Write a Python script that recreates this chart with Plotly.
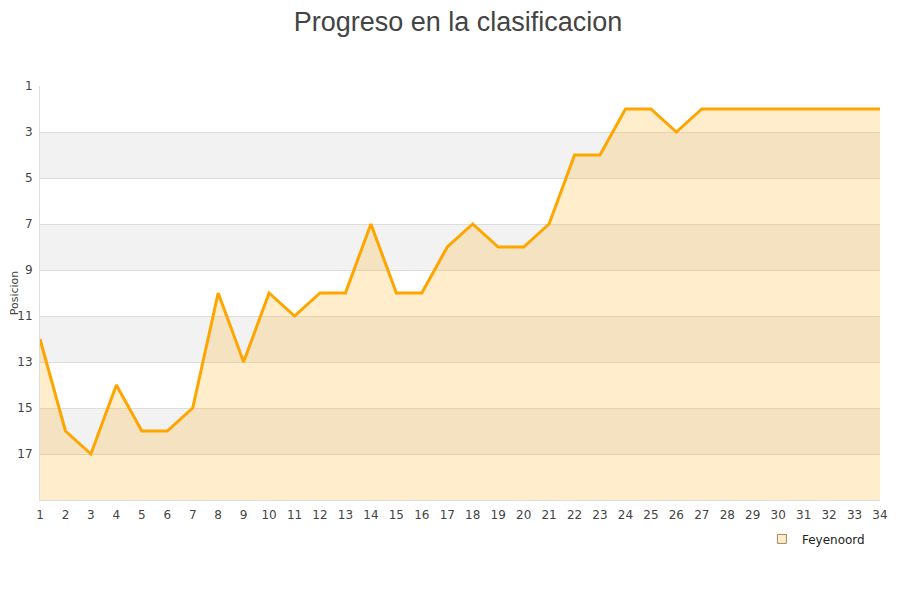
import plotly.graph_objects as go

# ── Data ─────────────────────────────────────────────────────────────
jornadas = list(range(1, 35))
posiciones = [
    12, 16, 17, 14, 16, 16, 15, 10, 13, 10, 11, 10, 10, 7, 10, 10, 8,
    7, 8, 8, 7, 4, 4, 2, 2, 3, 2, 2, 2, 2, 2, 2, 2, 2,
]
equipo = "Feyenoord"
y_ticks = list(range(1, 19, 2))
grey_bands = [(3, 5), (7, 9), (11, 13), (15, 17)]

fig = go.Figure()

# Filled area down to the bottom of the reversed axis (position 19)
fig.add_trace(go.Scatter(
    x=jornadas,
    y=[19] * len(jornadas),
    mode="lines",
    line=dict(width=0),
    showlegend=False,
    hoverinfo="skip",
))
fig.add_trace(go.Scatter(
    x=jornadas,
    y=posiciones,
    mode="lines",
    name=equipo,
    line=dict(color="#FFA500", width=3),
    fill="tonexty",
    fillcolor="rgba(255,165,0,0.2)",
    showlegend=False,
    hovertemplate="Jornada %{x}<br>Posicion %{y}<extra></extra>",
))
# legend entry only: small square swatch like the original
fig.add_trace(go.Scatter(
    x=[None], y=[None],
    mode="markers",
    name=equipo,
    marker=dict(symbol="square", size=9, color="#FFEBC6",
                line=dict(color="#9A8A6A", width=1)),
))

# Alternating grey bands behind the data
for y0, y1 in grey_bands:
    fig.add_shape(
        type="rect", xref="paper", yref="y",
        x0=0, x1=1, y0=y0, y1=y1,
        fillcolor="#F2F2F2", line_width=0, layer="below",
    )

fig.update_layout(
    width=900,
    height=600,
    title=dict(
        text="Progreso en la clasificacion",
        x=0.5, xanchor="center", y=0.977, yanchor="middle",
        font=dict(family="Liberation Sans, Arial, sans-serif", size=27, color="#444444"),
    ),
    font=dict(family="DejaVu Sans, sans-serif", size=12, color="#444444"),
    plot_bgcolor="white",
    paper_bgcolor="white",
    margin=dict(l=32, r=28, t=78, b=108),
    showlegend=True,
    legend=dict(
        x=0.988, xanchor="right", y=-0.094, yanchor="middle",
        itemwidth=30,
        font=dict(size=12, color="#222222"),
        bgcolor="rgba(0,0,0,0)",
    ),
    xaxis=dict(
        range=[1, 34],
        tickmode="array",
        tickvals=jornadas,
        showgrid=False,
        zeroline=False,
        showline=True,
        linecolor="#DDDDDD",
        linewidth=1,
        ticks="",
        automargin=False,
        ticklabelstandoff=4,
    ),
    yaxis=dict(
        range=[19, 1],
        tickmode="array",
        tickvals=y_ticks,
        showgrid=True,
        gridcolor="#DDDDDD",
        zeroline=False,
        showline=True,
        linecolor="#DDDDDD",
        linewidth=1,
        ticks="",
        automargin=False,
        title=dict(text="Posicion", standoff=0, font=dict(size=11)),
        ticklabelstandoff=4,
    ),
)

fig.write_html("out.html")
